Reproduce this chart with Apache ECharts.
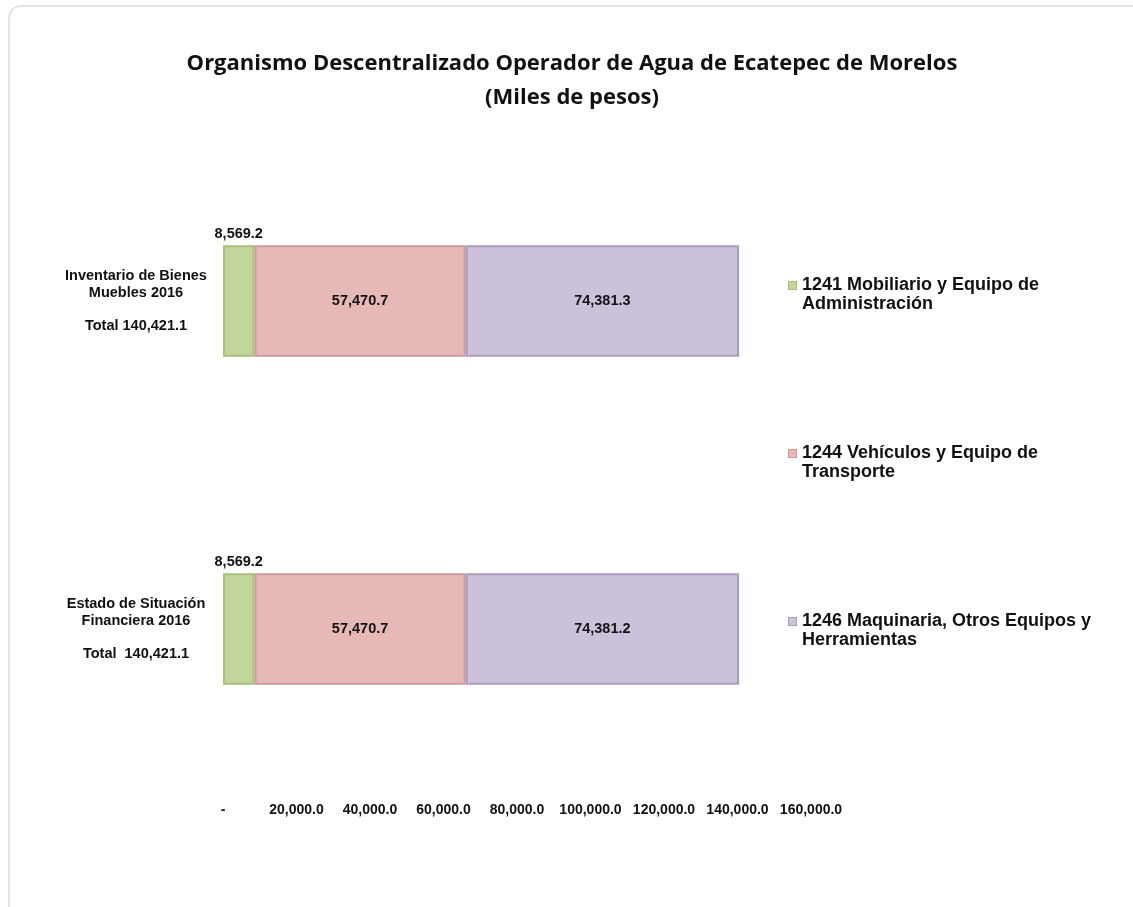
<!DOCTYPE html>
<html>
<head>
<meta charset="utf-8">
<script src="https://cdn.jsdelivr.net/npm/echarts@6/dist/echarts.min.js"></script>
<style>
  html, body { margin: 0; padding: 0; background: #fff; }
  #chart { width: 1133px; height: 907px; }
</style>
</head>
<body>
<div id="chart"></div>
<script>
// categories (top to bottom)
const categories = [
  "Inventario de Bienes\nMuebles 2016\n\nTotal 140,421.1",
  "Estado de Situación\nFinanciera 2016\n\nTotal  140,421.1"
];
const seriesNames = [
  "1241 Mobiliario y Equipo de\nAdministración",
  "1244 Vehículos y Equipo de\nTransporte",
  "1246 Maquinaria, Otros Equipos y\nHerramientas"
];
const mobiliario = [8569.2, 8569.2];
const vehiculos = [57470.7, 57470.7];
const maquinaria = [74381.3, 74381.2];
const xTicks = [0, 20000, 40000, 60000, 80000, 100000, 120000, 140000, 160000];

const fills = ["#c3d69b", "#e6b9b8", "#ccc1da"];
const edges = ["#a9bf7e", "#c99a99", "#a99cbc"];

const fmt = v => v === 0 ? "-" :
  v.toLocaleString("en-US", { minimumFractionDigits: 1, maximumFractionDigits: 1 });

// legend marker sits on the first text line, so draw it at the top of a tall icon
const legendIcon = (fill, edge) => {
  const svg = '<svg xmlns="http://www.w3.org/2000/svg" width="9" height="38" viewBox="0 0 9 38" preserveAspectRatio="none">' +
    '<rect x="0.5" y="5.5" width="8" height="8" fill="' + fill + '" stroke="' + edge + '" stroke-width="1"/></svg>';
  return "image://data:image/svg+xml;charset=utf-8," + encodeURIComponent(svg);
};

const chart = echarts.init(document.getElementById("chart"));

const values = [mobiliario, vehiculos, maquinaria];
const series = values.map((data, i) => ({
  name: seriesNames[i],
  type: "bar",
  stack: "total",
  barWidth: "34%",
  data: data,
  itemStyle: {
    color: fills[i],
    borderColor: edges[i],
    borderWidth: 2
  },
  label: {
    show: true,
    position: i === 0 ? "top" : "inside",
    distance: 4,
    color: "#111",
    fontFamily: "Liberation Sans, Arial",
    fontWeight: "bold",
    fontSize: 14.5,
    formatter: p => fmt(p.value)
  }
}));

const option = {
  backgroundColor: "#fff",
  graphic: [{
    type: "rect",
    shape: { x: 9, y: 6, width: 1140, height: 920, r: 12 },
    style: { fill: "none", stroke: "#dcdcdc", lineWidth: 1.5 },
    silent: true
  }],
  title: {
    text: "Organismo Descentralizado Operador de Agua de Ecatepec de Morelos\n(Miles de pesos)",
    left: 567,
    top: 42,
    textAlign: "center",
    textStyle: {
      fontFamily: "Open Sans",
      fontWeight: "bold",
      fontSize: 22,
      lineHeight: 34,
      color: "#111"
    }
  },
  legend: {
    orient: "vertical",
    left: 783,
    top: 271,
    itemGap: 130,
    itemWidth: 9,
    itemHeight: 38,
    textStyle: {
      fontFamily: "Liberation Sans, Arial",
      fontWeight: "bold",
      fontSize: 18,
      lineHeight: 19,
      color: "#111"
    },
    data: seriesNames.map((n, i) => ({ name: n, icon: legendIcon(fills[i], edges[i]) }))
  },
  grid: {
    left: 223,
    right: 322,
    top: 137,
    bottom: 114
  },
  xAxis: {
    type: "value",
    min: 0,
    max: 160000,
    interval: 20000,
    axisLine: { show: false },
    axisTick: { show: false },
    splitLine: { show: false },
    axisLabel: {
      margin: 10,
      color: "#111",
      fontFamily: "Liberation Sans, Arial",
      fontWeight: "bold",
      fontSize: 14,
      formatter: v => xTicks.includes(v) ? fmt(v) : ""
    }
  },
  yAxis: {
    type: "category",
    inverse: true,
    data: categories,
    axisLine: { show: false },
    axisTick: { show: false },
    axisLabel: {
      margin: 87,
      align: "center",
      color: "#111",
      fontFamily: "Liberation Sans, Arial",
      fontWeight: "bold",
      fontSize: 14.5,
      lineHeight: 16.5
    }
  },
  series: series
};

chart.setOption(option);
</script>
</body>
</html>
